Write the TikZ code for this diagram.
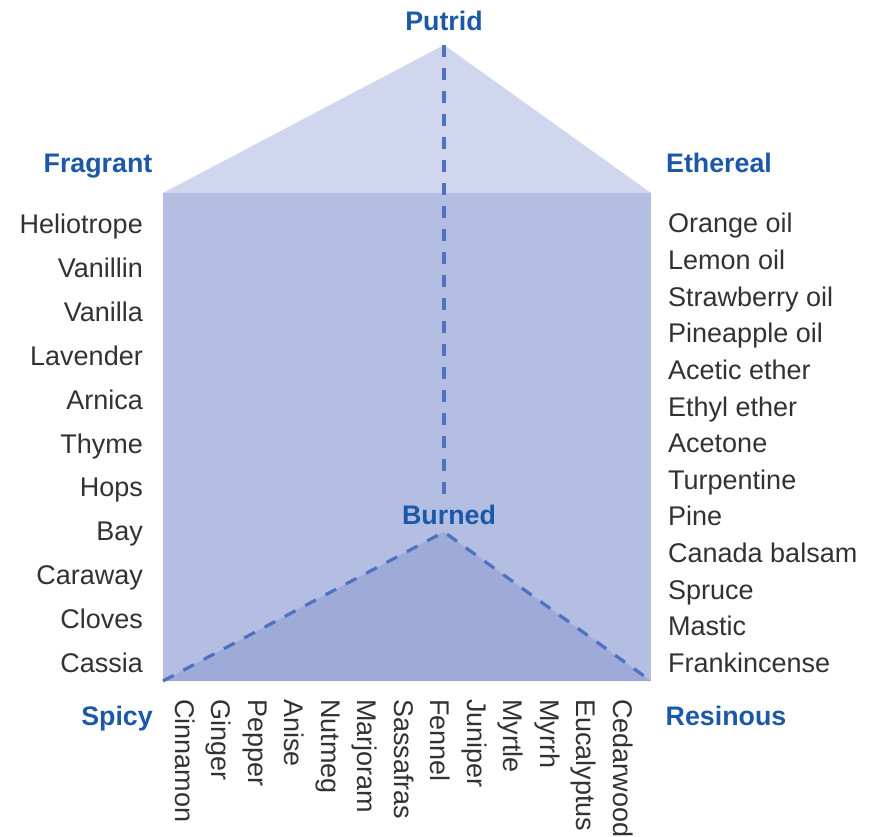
\documentclass[tikz,border=0pt]{standalone}
\usepackage{fontspec}
\setmainfont{Liberation Sans}
\usetikzlibrary{positioning}
\definecolor{lidface}{RGB}{208,214,238}
\definecolor{frontface}{RGB}{180,190,227}
\definecolor{baseface}{RGB}{158,171,216}
\definecolor{edgeblue}{RGB}{80,112,192}
\definecolor{cornerblue}{RGB}{28,88,168}
\definecolor{ink}{RGB}{50,50,50}
\tikzset{
  corner/.style={font=\fontsize{26.8}{30}\selectfont\bfseries,text=cornerblue,inner sep=0pt},
  odour/.style={font=\fontsize{27}{30}\selectfont,text=ink,inner sep=0pt},
  hidden edge/.style={draw=edgeblue,line width=3.2pt,dash pattern=on 12pt off 11pt},
}
\begin{document}
\begin{tikzpicture}[x=1pt,y=1pt]
  \useasboundingbox (0,0) rectangle (871,-837);
  % prism corners
  \coordinate (putrid pt) at (444,-45);
  \coordinate (fragrant pt) at (163,-193);
  \coordinate (ethereal pt) at (651,-193);
  \coordinate (spicy pt) at (163,-681);
  \coordinate (resinous pt) at (651,-681);
  \coordinate (burned pt) at (444,-532);
  % faces
  \fill[lidface] (fragrant pt) -- (putrid pt) -- (ethereal pt) -- cycle;
  \fill[frontface] (fragrant pt) rectangle (resinous pt);
  \fill[baseface] (spicy pt) -- (burned pt) -- (resinous pt) -- cycle;
  % corner labels
  \node[corner] (putrid) at (444,-21) {Putrid};
  \node[corner] (fragrant) at (98,-166) {Fragrant};
  \node[corner] (ethereal) at (719,-163) {Ethereal};
  \node[corner] (burned) at (449,-515) {Burned};
  \node[corner] (spicy) at (117,-719) {Spicy};
  \node[corner] (resinous) at (726,-716) {Resinous};
  % hidden edges
  \draw[hidden edge] (putrid pt) -- ([yshift=4pt]burned.north -| putrid pt);
  \draw[hidden edge] (spicy pt) -- (burned pt) -- (resinous pt);
  % odours
  \foreach \t [count=\i from 0] in {Heliotrope,Vanillin,Vanilla,Lavender,Arnica,Thyme,Hops,Bay,Caraway,Cloves,Cassia}
    \node[odour,anchor=base east] (frag\i) at (143,-234-\i*43.8) {\t};
  \foreach \t [count=\i from 0] in {Orange oil,Lemon oil,Strawberry oil,Pineapple oil,Acetic ether,Ethyl ether,Acetone,Turpentine,Pine,Canada balsam,Spruce,Mastic,Frankincense}
    \node[odour,anchor=base west] (eth\i) at (668,-233-\i*36.6) {\t};
  \foreach \t [count=\i from 0] in {Cinnamon,Ginger,Pepper,Anise,Nutmeg,Marjoram,Sassafras,Fennel,Juniper,Myrtle,Myrrh,Eucalyptus,Cedarwood}
    \node[odour,rotate=-90,anchor=base west] (spi\i) at (175+\i*36.5,-699) {\t};
\end{tikzpicture}
\end{document}
